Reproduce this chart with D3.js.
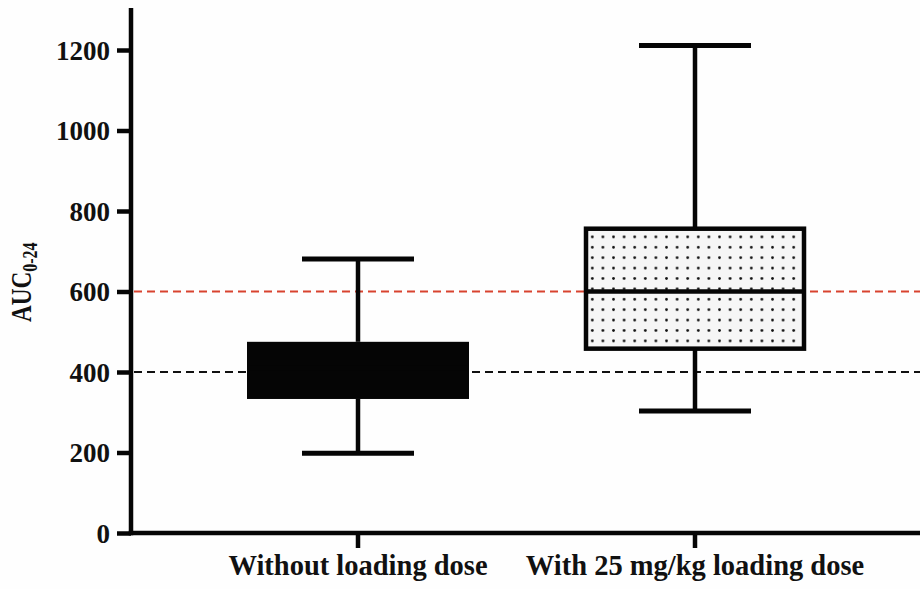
<!DOCTYPE html>
<html>
<head>
<meta charset="utf-8">
<script src="https://cdn.jsdelivr.net/npm/d3@7"></script>
<style>
  html, body { margin: 0; padding: 0; background: #fefefe; }
  svg { display: block; }
</style>
</head>
<body>
<svg id="chart" width="920" height="589"></svg>
<script>
// Groups and their box-plot summaries (min, Q1, median, Q3, max)
const categories = ["Without loading dose", "With 25 mg/kg loading dose"];
const mins    = [198, 303];
const q1s     = [333, 458];
const medians = [410, 600];
const q3s     = [475, 756];
const maxs    = [681, 1211];
const fills   = ["solid", "dots"];

// Reference thresholds
const refValues = [600, 400];
const refColors = ["#d8432f", "#111111"];

const yTicks = [0, 200, 400, 600, 800, 1000, 1200];

const FONT = "'Liberation Serif', 'Times New Roman', serif";
const INK = "#050505";

const svg = d3.select("#chart");
const x0 = 131, yTop = 8, yBottom = 533, xRight = 920;

const y = d3.scaleLinear().domain([0, 1200]).range([yBottom, 50]);
const x = d3.scaleBand().domain(categories).range([189.5, 863.5]).paddingInner(0).paddingOuter(0);

const boxW = 222, capW = 112;
const cx = d => x(d.c) + x.bandwidth() / 2;

const groups = categories.map((c, i) => ({
  c, min: mins[i], q1: q1s[i], med: medians[i], q3: q3s[i], max: maxs[i], fill: fills[i]
}));

// dotted fill pattern, anchored to the dotted box's inner corner
const dotted = groups.find(d => d.fill === "dots");
const defs = svg.append("defs");
const pat = defs.append("pattern")
  .attr("id", "dots").attr("patternUnits", "userSpaceOnUse")
  .attr("width", 10.6).attr("height", 10.4)
  .attr("x", cx(dotted) - boxW / 2 + 3)
  .attr("y", y(dotted.q3) + 3);
pat.append("rect").attr("width", 10.6).attr("height", 10.4).attr("fill", "#f6f6f6");
pat.append("circle").attr("cx", 5.3).attr("cy", 5.2).attr("r", 1.4).attr("fill", "#111");

// reference lines
svg.selectAll("line.ref").data(refValues).enter().append("line")
  .attr("class", "ref")
  .attr("x1", x0 + 3).attr("x2", xRight)
  .attr("y1", d => y(d)).attr("y2", d => y(d))
  .attr("stroke", (d, i) => refColors[i])
  .attr("stroke-width", 2.2)
  .attr("stroke-dasharray", "8,5");

const g = svg.selectAll("g.box").data(groups).enter().append("g").attr("class", "box");

// whiskers
g.append("line")
  .attr("x1", cx).attr("x2", cx)
  .attr("y1", d => y(d.max)).attr("y2", d => y(d.q3))
  .attr("stroke", INK).attr("stroke-width", 4.5);
g.append("line")
  .attr("x1", cx).attr("x2", cx)
  .attr("y1", d => y(d.q1)).attr("y2", d => y(d.min))
  .attr("stroke", INK).attr("stroke-width", 4.5);
// caps
["max", "min"].forEach(k => {
  g.append("line")
    .attr("x1", d => cx(d) - capW / 2).attr("x2", d => cx(d) + capW / 2)
    .attr("y1", d => y(d[k])).attr("y2", d => y(d[k]))
    .attr("stroke", INK).attr("stroke-width", 5);
});
// boxes
g.append("rect")
  .attr("x", d => cx(d) - boxW / 2 + (d.fill === "solid" ? 0 : 2))
  .attr("width", d => d.fill === "solid" ? boxW : boxW - 4)
  .attr("y", d => y(d.q3))
  .attr("height", d => y(d.q1) - y(d.q3))
  .attr("fill", d => d.fill === "solid" ? INK : "url(#dots)")
  .attr("stroke", d => d.fill === "solid" ? "none" : INK)
  .attr("stroke-width", 4.5);
// medians
g.append("line")
  .attr("x1", d => cx(d) - boxW / 2 + 2).attr("x2", d => cx(d) + boxW / 2 - 2)
  .attr("y1", d => y(d.med)).attr("y2", d => y(d.med))
  .attr("stroke", INK).attr("stroke-width", 4.5);

// y axis
const yAxis = svg.append("g").attr("transform", `translate(${x0},0)`)
  .call(d3.axisLeft(y).tickValues(yTicks).tickSize(14).tickPadding(7).tickFormat(d3.format("d")));
yAxis.select(".domain").remove();
yAxis.selectAll(".tick line").attr("stroke", INK).attr("stroke-width", 4.5);
yAxis.selectAll(".tick text")
  .style("font-family", FONT).style("font-weight", "bold").style("font-size", "27px")
  .attr("dy", "0.34em").attr("fill", "#111");
svg.append("line").attr("x1", x0).attr("x2", x0).attr("y1", yTop).attr("y2", yBottom + 2.25)
  .attr("stroke", INK).attr("stroke-width", 4.5);

// x axis
const xAxis = svg.append("g").attr("transform", `translate(0,${yBottom})`)
  .call(d3.axisBottom(x).tickSize(15).tickPadding(0));
xAxis.select(".domain").remove();
xAxis.selectAll(".tick line").attr("stroke", INK).attr("stroke-width", 4.5);
xAxis.selectAll(".tick text")
  .style("font-family", FONT).style("font-weight", "bold").style("font-size", "28.5px")
  .attr("dy", 0).attr("y", 42).attr("fill", "#111");
svg.append("line").attr("x1", x0 - 2.25).attr("x2", xRight).attr("y1", yBottom).attr("y2", yBottom)
  .attr("stroke", INK).attr("stroke-width", 4.5);

// y axis title with subscript
const title = svg.append("text")
  .attr("transform", "translate(31,322) rotate(-90) scale(0.8,1)")
  .attr("text-anchor", "start")
  .style("font-family", FONT).style("font-weight", "bold").style("font-size", "29px")
  .attr("fill", "#111");
title.append("tspan").text("AUC");
title.append("tspan").style("font-size", "20px").attr("dy", 6).text("0-24");
</script>
</body>
</html>
